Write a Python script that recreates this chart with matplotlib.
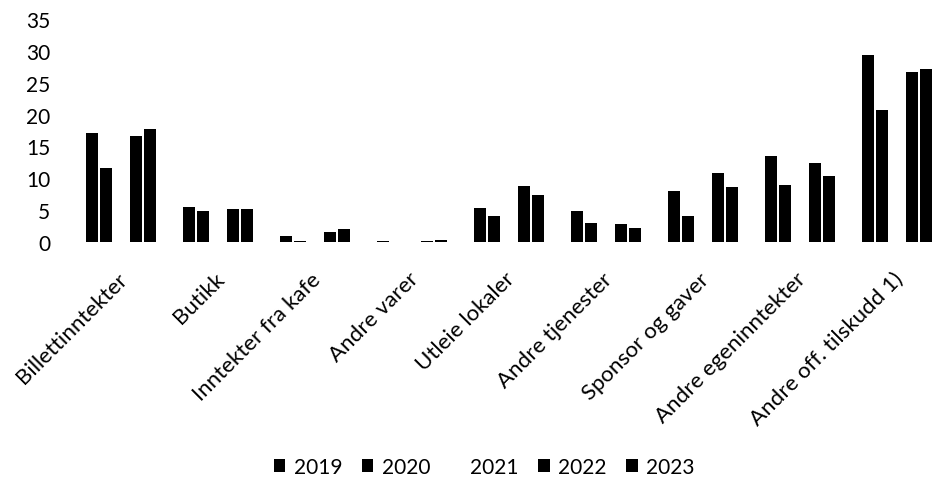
import numpy as np
import matplotlib
matplotlib.use('Agg')
import matplotlib.pyplot as plt

plt.rcParams['font.family'] = ['Lato', 'DejaVu Sans']

# Categories and values
categories = ['Billettinntekter', 'Butikk', 'Inntekter fra kafe', 'Andre varer',
              'Utleie lokaler', 'Andre tjenester', 'Sponsor og gaver',
              'Andre egeninntekter', 'Andre off. tilskudd 1)']
years = ['2019', '2020', '2021', '2022', '2023']
v2019 = [17.1, 5.5, 0.9, 0.1, 5.4, 4.9, 8.0, 13.5, 29.4]
v2020 = [11.6, 4.9, 0.2, 0.0, 4.1, 3.0, 4.1, 8.9, 20.7]
v2021 = [0, 0, 0, 0, 0, 0, 0, 0, 0]
v2022 = [16.6, 5.2, 1.6, 0.1, 8.8, 2.8, 10.9, 12.4, 26.7]
v2023 = [17.7, 5.2, 2.0, 0.3, 7.3, 2.2, 8.6, 10.3, 27.1]
series = [v2019, v2020, v2021, v2022, v2023]
colors = ['black', 'black', 'white', 'black', 'black']

fig = plt.figure(figsize=(9.33, 4.81), dpi=100)
ax = fig.add_axes([0.0777, 0.4948, 0.9357, 0.4636])

x = np.arange(len(categories))
step = 0.1515
width = 0.124
for j, (vals, c) in enumerate(zip(series, colors)):
    ax.bar(x + (j - 2) * step, vals, width, color=c, label=years[j])

ax.set_xlim(-0.5, 8.5)
ax.set_ylim(0, 35)
ax.set_yticks(range(0, 36, 5))
ax.tick_params(axis='y', length=0, pad=16, labelsize=15)
ax.set_xticks([])
for s in ax.spines.values():
    s.set_visible(False)

# rotated category labels
for i, name in enumerate(categories):
    ax.annotate(name, xy=(i, 0), xycoords=('data', 'axes fraction'),
                xytext=(-3, -19), textcoords='offset points',
                rotation=45, rotation_mode='anchor', ha='right', va='top',
                fontsize=16)

fig.legend(loc='center', bbox_to_anchor=(0.519, 0.027), ncol=5, frameon=False,
           fontsize=15, handlelength=0.55, handleheight=0.55, handletextpad=0.4,
           columnspacing=0.95)

fig.savefig('out.png', dpi=100)
